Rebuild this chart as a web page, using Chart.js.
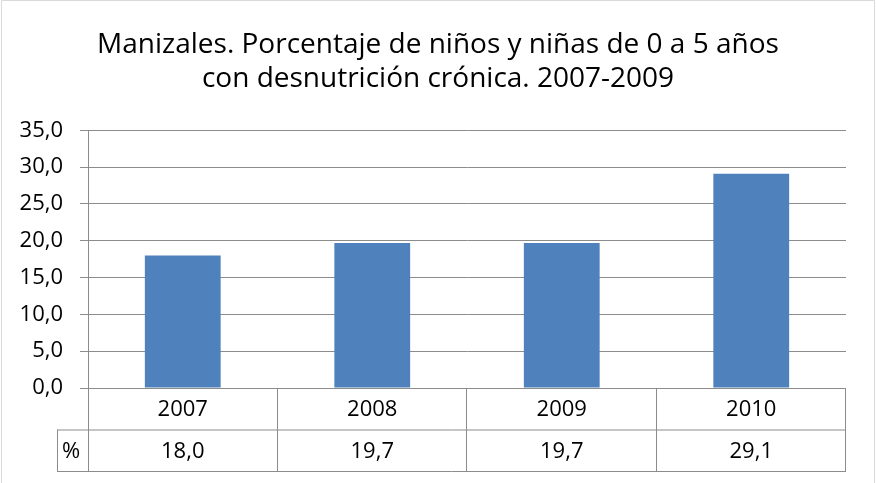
<!DOCTYPE html>
<html>
<head>
<meta charset="utf-8">
<script src="https://cdn.jsdelivr.net/npm/chart.js@4/dist/chart.umd.min.js"></script>
<style>
  html, body { margin: 0; padding: 0; background: #fff; }
  #wrap { width: 876px; height: 483px; }
</style>
</head>
<body>
<div id="wrap"><canvas id="chart" width="876" height="483"></canvas></div>
<script>
var years = ['2007', '2008', '2009', '2010'];
var pct = [18.0, 19.7, 19.7, 29.1];
var seriesName = '%';
var titleLines = ['Manizales. Porcentaje de niños y niñas de 0 a 5 años', 'con desnutrición crónica. 2007-2009'];

var fontFam = "'Open Sans', sans-serif";
var lineCol = '#8c8c8c';

var fmt = function(v) {
    return v.toFixed(1).replace('.', ',');
};

// draws the data table under the plot, like the spreadsheet one
var dataTable = {
    id: 'dataTable',
    afterLayout: function(chart) {
        // center the title on the whole canvas, not on the padded box
        if(chart.titleBlock) {
            chart.titleBlock.left = 0;
            chart.titleBlock.right = chart.width;
        }
    },
    afterDraw: function(chart) {
        var ctx = chart.ctx,
            xs = chart.scales.x,
            area = chart.chartArea,
            rowH = 41.5,
            top = area.bottom,
            mid = top + rowH,
            bot = top + rowH * 2,
            left = area.left,
            right = area.right,
            labLeft = 57;

        ctx.save();
        ctx.strokeStyle = lineCol;
        ctx.lineWidth = 1;
        ctx.beginPath();
        // horizontal lines
        ctx.moveTo(left, top + 0.5); ctx.lineTo(right, top + 0.5);
        ctx.moveTo(labLeft, mid + 0.5); ctx.lineTo(right, mid + 0.5);
        ctx.moveTo(labLeft, bot + 0.5); ctx.lineTo(right, bot + 0.5);
        // vertical lines
        ctx.moveTo(labLeft + 0.5, mid); ctx.lineTo(labLeft + 0.5, bot);
        ctx.moveTo(left + 0.5, top); ctx.lineTo(left + 0.5, bot);
        var step = (right - left) / years.length;
        for(var i = 1; i <= years.length; i++) {
            var x = Math.round(left + step * i) - 0.5;
            ctx.moveTo(x, top); ctx.lineTo(x, bot);
        }
        ctx.stroke();

        ctx.fillStyle = '#000';
        ctx.font = '22px ' + fontFam;
        ctx.textAlign = 'center';
        ctx.textBaseline = 'middle';
        for(var j = 0; j < years.length; j++) {
            var cx = xs.getPixelForValue(j);
            ctx.fillText(years[j], cx, top + rowH / 2 + 1);
            ctx.fillText(fmt(pct[j]), cx, mid + rowH / 2 + 1);
        }
        ctx.textAlign = 'left';
        ctx.fillText(seriesName, labLeft + 5, mid + rowH / 2 + 1);

        // outer frame of the chart object
        ctx.strokeStyle = '#d9d9d9';
        ctx.beginPath();
        ctx.moveTo(1.5, 483); ctx.lineTo(1.5, 0.5); ctx.lineTo(874.5, 0.5); ctx.lineTo(874.5, 483);
        ctx.stroke();
        ctx.restore();
    }
};

var config = {
    type: 'bar',
    data: {
        labels: years,
        datasets: [{
            label: seriesName,
            data: pct,
            backgroundColor: '#4f81bd',
            borderWidth: 0,
            categoryPercentage: 0.4,
            barPercentage: 1.0
        }]
    },
    options: {
        responsive: false,
        animation: false,
        layout: { padding: { left: 0, right: 30, top: 0, bottom: 95 } },
        plugins: {
            legend: { display: false },
            tooltip: { enabled: false },
            title: {
                display: true,
                text: titleLines,
                color: '#000',
                font: { family: fontFam, size: 28, weight: 'normal', lineHeight: 1.22 },
                padding: { top: 28, bottom: 34 }
            }
        },
        scales: {
            x: {
                display: false
            },
            y: {
                min: 0,
                max: 35,
                afterFit: function(scale) { scale.width = 88; },
                ticks: {
                    stepSize: 5,
                    padding: 17,
                    color: '#000',
                    font: { family: fontFam, size: 22 },
                    callback: function(v) { return fmt(v); }
                },
                grid: {
                    color: lineCol,
                    tickLength: 8,
                    drawTicks: true
                },
                border: { color: lineCol }
            }
        }
    },
    plugins: [dataTable]
};

var ctx = document.getElementById('chart').getContext('2d');
window.myBar = new Chart(ctx, config);
</script>
</body>
</html>
